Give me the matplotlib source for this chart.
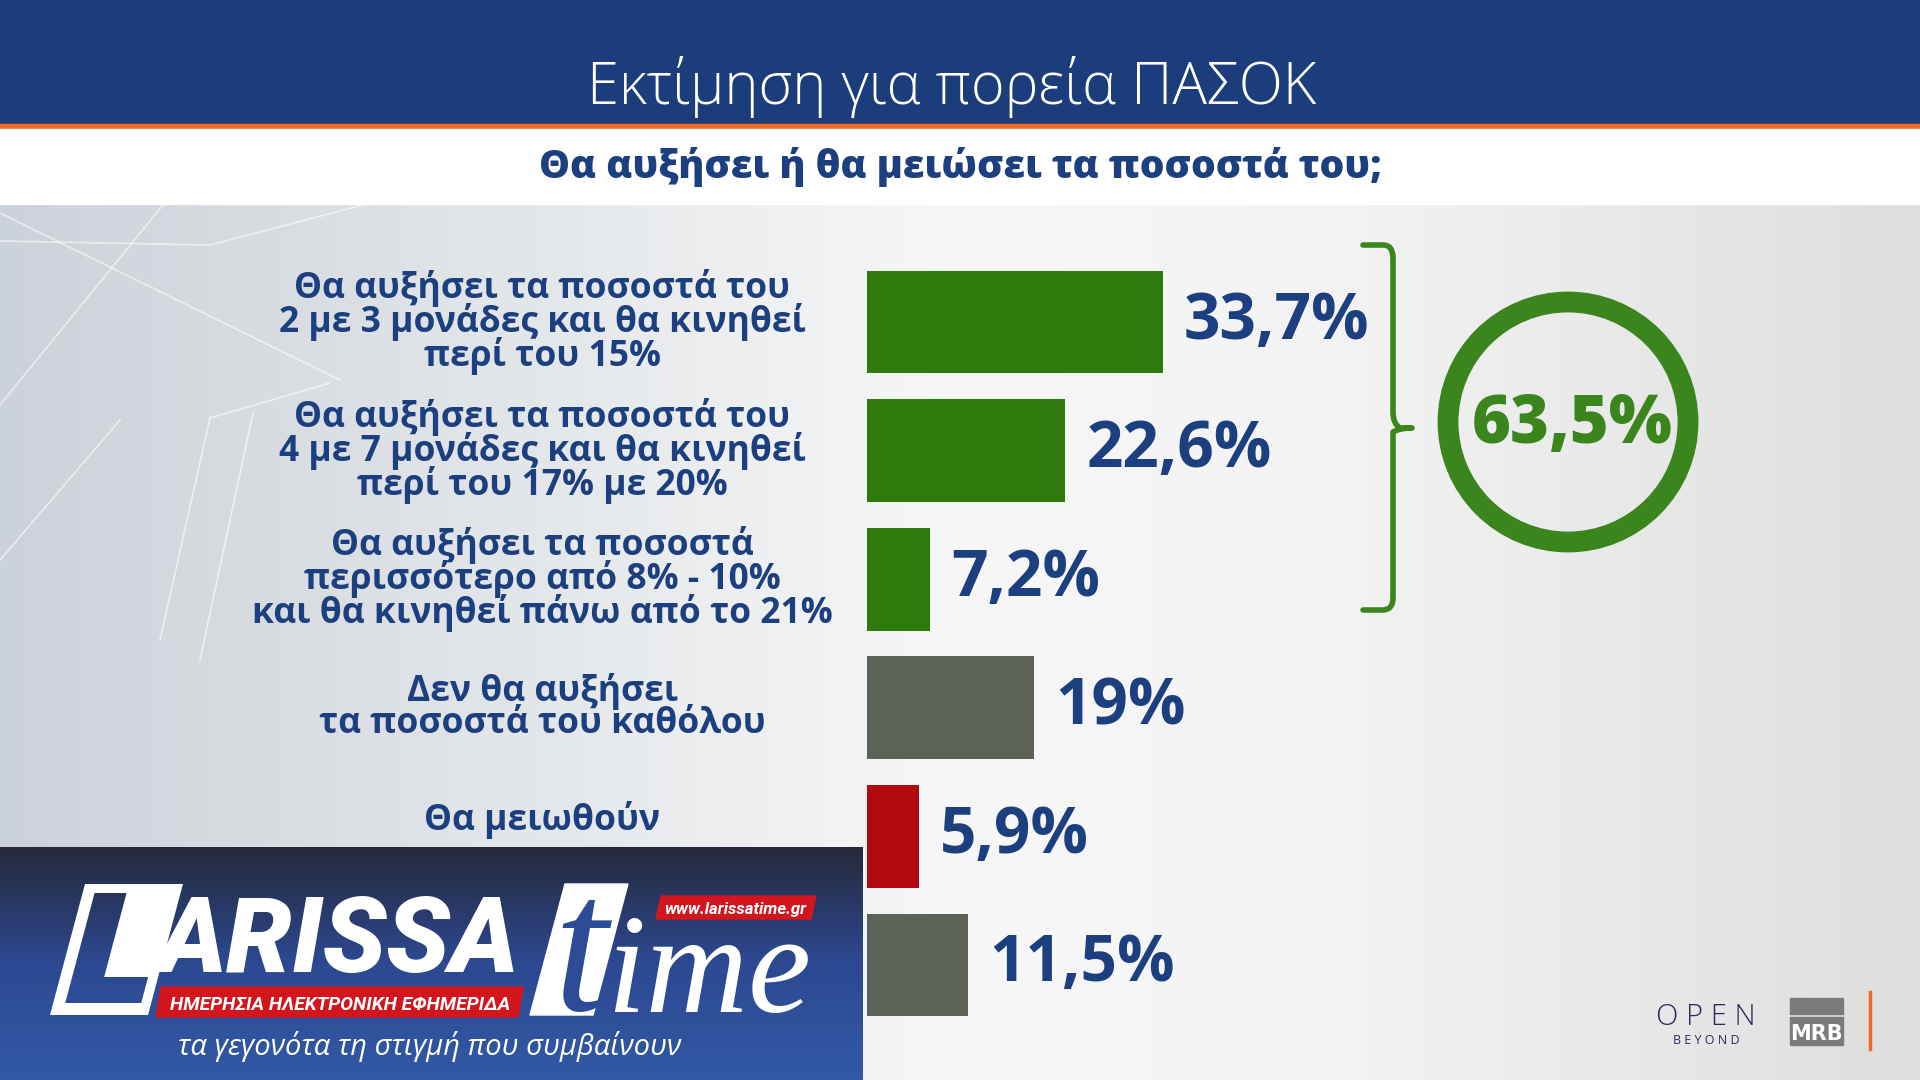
import numpy as np
import matplotlib.pyplot as plt
from matplotlib.colors import LinearSegmentedColormap
from matplotlib.patches import Rectangle, Circle, PathPatch, Polygon
from matplotlib.path import Path

# data
categories = [
    "Θα αυξήσει τα ποσοστά του\n2 με 3 μονάδες και θα κινηθεί\nπερί του 15%",
    "Θα αυξήσει τα ποσοστά του\n4 με 7 μονάδες και θα κινηθεί\nπερί του 17% με 20%",
    "Θα αυξήσει τα ποσοστά\nπερισσότερο από 8% - 10%\nκαι θα κινηθεί πάνω από το 21%",
    "Δεν θα αυξήσει\nτα ποσοστά του καθόλου",
    "Θα μειωθούν\n ",
    "",
]
values = [33.7, 22.6, 7.2, 19.0, 5.9, 11.5]
bar_colors = ["#2f7a0c", "#2f7a0c", "#2f7a0c", "#5c6356", "#b00a0c", "#5c6356"]
increase_group = [0, 1, 2]

title = "Εκτίμηση για πορεία ΠΑΣΟΚ"
subtitle = "Θα αυξήσει ή θα μειώσει τα ποσοστά του;"

NAVY = "#1c3f7f"
GREEN = "#3a861c"
FONT = "Open Sans"
LOGO_FONT = "Roboto"


def pct(v):
    s = f"{v:.1f}".replace(".", ",")
    if s.endswith(",0"):
        s = s[:-2]
    return s + "%"


fig = plt.figure(figsize=(19.2, 10.8), dpi=100)
renderer = fig.canvas.get_renderer()


def fit_width(t, target):
    # scale a text's font size so that it spans target pixels
    w = t.get_window_extent(renderer=renderer).width
    t.set_fontsize(t.get_fontsize() * target / w)


# background layer (pixel coordinates)
bg = fig.add_axes([0, 0, 1, 1], zorder=0)
bg.set_xlim(0, 1920)
bg.set_ylim(1080, 0)
bg.axis("off")

bg_cmap = LinearSegmentedColormap.from_list(
    "bg", [(0, "#ccd2d9"), (0.28, "#e4e7ea"), (0.5, "#f7f7f7"), (0.7, "#f3f3f3"), (1, "#dedede")])
bg.imshow(np.linspace(0, 1, 256)[None, :], cmap=bg_cmap, aspect="auto",
          extent=[0, 1920, 1080, 200], zorder=0)
bg_lines = [[(0, 213), (340, 380)], [(167, 200), (0, 405)],
            [(0, 241), (210, 245), (420, 190)], [(210, 418), (330, 383)],
            [(210, 418), (160, 640)], [(253, 413), (200, 660)], [(0, 560), (120, 420)]]
for pts in bg_lines:
    xs, ys = zip(*pts)
    bg.plot(xs, ys, color="white", lw=1.3, alpha=0.55, zorder=1)

# header
bg.add_patch(Rectangle((0, 0), 1920, 124, color="#1b3d7b", zorder=2))
bg.add_patch(Rectangle((0, 124), 1920, 5, color="#f26a22", zorder=2))
bg.add_patch(Rectangle((0, 129), 1920, 75, color="white", zorder=2))
bg.text(952, 104, title, color="white", fontsize=41.5, fontfamily=FONT, fontweight="light",
        ha="center", va="baseline", zorder=3)
bg.text(960, 178, subtitle, color=NAVY, fontsize=28, fontfamily=FONT, fontweight="heavy",
        ha="center", va="baseline", zorder=3)

# bar chart
ax = fig.add_axes([867 / 1920, 1 - 1029.3 / 1080, 878 / 1920, 771.6 / 1080], zorder=1)
ax.patch.set_alpha(0)
y = np.arange(len(values))
ax.barh(y, values, height=0.8, color=bar_colors)
ax.set_xlim(0, 100)
ax.set_ylim(len(values) - 0.5, -0.5)
ax.axis("off")

for i, (lab, v) in enumerate(zip(categories, values)):
    if lab:
        ax.text(-37.0, i, lab, ha="center", va="center", color=NAVY, fontsize=25.5,
                fontfamily=FONT, fontweight="bold", linespacing=0.86, clip_on=False)
    ax.text(v + 2.4, i, pct(v), ha="left", va="center", color=NAVY, fontsize=46,
            fontfamily=FONT, fontweight="bold", clip_on=False)

# overlay layer (pixel coordinates)
fg = fig.add_axes([0, 0, 1, 1], zorder=2)
fg.patch.set_alpha(0)
fg.set_xlim(0, 1920)
fg.set_ylim(1080, 0)
fg.axis("off")

# curly bracket
verts = [(1363, 245), (1383, 245), (1393, 245), (1393, 258),
         (1393, 412), (1393, 424), (1400, 428), (1412, 428),
         (1400, 428), (1393, 432), (1393, 444),
         (1393, 598), (1393, 610), (1383, 610), (1363, 610)]
codes = [Path.MOVETO, Path.LINETO, Path.CURVE3, Path.CURVE3,
         Path.LINETO, Path.CURVE3, Path.CURVE3, Path.LINETO,
         Path.CURVE3, Path.CURVE3, Path.LINETO,
         Path.LINETO, Path.CURVE3, Path.CURVE3, Path.LINETO]
fg.add_patch(PathPatch(Path(verts, codes), fill=False, edgecolor=GREEN, lw=4,
                       capstyle="round", joinstyle="round"))

# total circle
total = sum(values[i] for i in increase_group)
fg.add_patch(Circle((1568, 422), 120, fill=False, edgecolor=GREEN, lw=15))
fg.text(1572, 425, pct(total), color=GREEN, fontsize=48, fontfamily=FONT,
        fontweight="heavy", ha="center", va="center")

# bottom right logos
fg.text(1706, 1025, "O P E N", color="#2a2d5c", fontsize=21, fontfamily=FONT,
        fontweight="light", ha="center", va="baseline")
fg.text(1706, 1044, "B E Y O N D", color="#2a2d5c", fontsize=9, fontfamily=FONT,
        ha="center", va="baseline")
fg.add_patch(Rectangle((1790, 998), 53, 16, color="#7b7b7b"))
fg.add_patch(Rectangle((1790, 1017), 53, 28, color="#7b7b7b"))
fg.text(1816, 1040, "MRB", color="white", fontsize=15, fontfamily="DejaVu Sans",
        fontweight="bold", ha="center", va="baseline")
fg.plot([1870, 1870], [992, 1049], color="#f26a22", lw=2.5)

# watermark box
logo_cmap = LinearSegmentedColormap.from_list("logo", ["#26293b", "#2c4992", "#3259a6"])
fg.imshow(np.linspace(0, 1, 128)[:, None], cmap=logo_cmap, aspect="auto",
          extent=[0, 863, 1080, 847], zorder=3)


def shear(pts, base=1015, k=0.267):
    return [(x + k * (base - yy), yy) for x, yy in pts]


outer = shear([(50, 1015), (148, 1015), (148, 884), (50, 884), (50, 1015)])
hole = shear([(62, 1003), (62, 893), (94, 893), (94, 977), (138, 977), (138, 1003), (62, 1003)])
l_codes = [Path.MOVETO] + [Path.LINETO] * 3 + [Path.CLOSEPOLY] + \
          [Path.MOVETO] + [Path.LINETO] * 5 + [Path.CLOSEPOLY]
fg.add_patch(PathPatch(Path(outer + hole, l_codes), facecolor="white", edgecolor="none",
                       zorder=4))
t_arissa = fg.text(158, 972, "ARISSA", color="white", fontsize=80, fontfamily=LOGO_FONT,
                   fontweight="black", style="italic", ha="left", va="baseline", zorder=4)
fit_width(t_arissa, 362)
fg.add_patch(Polygon(shear([(530, 1015), (593, 1015), (593, 884), (530, 884)]),
                     color="white", zorder=4))
fg.text(580, 1010, "t", color="#2d4c98", fontsize=140, fontfamily="Liberation Serif",
        style="italic", ha="center", va="baseline", zorder=5)
t_ime = fg.text(606, 1012, "ime", color="white", fontsize=110, fontfamily="Liberation Serif",
                style="italic", ha="left", va="baseline", zorder=4)
fit_width(t_ime, 205)
fg.add_patch(Polygon([(661, 896), (816, 896), (811, 919), (656, 919)],
                     color="#d3161e", zorder=5))
t_www = fg.text(735, 914, "www.larissatime.gr", color="white", fontsize=14,
                fontfamily=LOGO_FONT, fontweight="bold", style="italic",
                ha="center", va="baseline", zorder=6)
fit_width(t_www, 142)
fg.add_patch(Polygon([(161, 987), (523, 987), (518, 1017), (156, 1017)],
                     color="#d3161e", zorder=5))
t_band = fg.text(340, 1010, "ΗΜΕΡΗΣΙΑ ΗΛΕΚΤΡΟΝΙΚΗ ΕΦΗΜΕΡΙΔΑ", color="white", fontsize=14,
                 fontfamily=LOGO_FONT, fontweight="bold", style="italic",
                 ha="center", va="baseline", zorder=6)
fit_width(t_band, 342)
fg.text(430, 1055, "τα γεγονότα τη στιγμή που συμβαίνουν", color="white", fontsize=21,
        fontfamily=FONT, style="italic", ha="center", va="baseline", zorder=4)

fig.savefig("out.png", dpi=100)
